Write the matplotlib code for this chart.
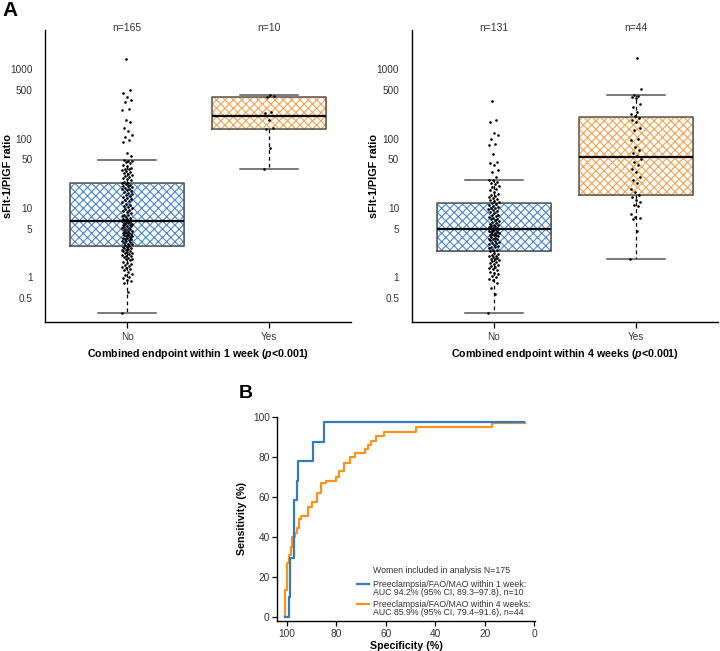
import numpy as np
import matplotlib
matplotlib.use("Agg")
import matplotlib.pyplot as plt
from matplotlib.transforms import blended_transform_factory

plt.rcParams['font.family'] = ['Liberation Sans', 'DejaVu Sans']
plt.rcParams['mathtext.fontset'] = 'custom'
plt.rcParams['mathtext.it'] = 'Liberation Sans:italic:bold'
plt.rcParams['mathtext.rm'] = 'Liberation Sans:bold'
plt.rcParams['hatch.linewidth'] = 0.8

# ---------------- data ----------------
categories = ["No", "Yes"]

week1_counts = ["n=165", "n=10"]
week1_no = [0.30, 0.60, 0.82, 0.88, 0.92, 0.98, 1.02, 1.08, 1.12, 1.18,
            1.25, 1.3, 1.35, 1.4, 1.45, 1.5, 1.55, 1.6, 1.68, 1.75,
            1.8, 1.85, 1.9, 1.95, 2.0, 2.05, 2.1, 2.15, 2.2, 2.25,
            2.3, 2.35, 2.4, 2.45, 2.5, 2.55, 2.6, 2.65, 2.7, 2.75, 2.8,
            2.9, 3.0, 3.05, 3.1, 3.2, 3.3, 3.35, 3.4, 3.5, 3.6,
            3.65, 3.7, 3.8, 3.9, 3.95, 4.0, 4.1, 4.2, 4.3, 4.35,
            4.4, 4.5, 4.6, 4.7, 4.8, 4.9, 5.0, 5.1, 5.2, 5.3,
            5.4, 5.5, 5.6, 5.7, 5.8, 5.9, 6.0, 6.1, 6.2, 6.3, 6.4,
            6.5,
            6.6, 6.7, 6.8, 7.0, 7.2, 7.4, 7.6, 7.8, 8.0, 8.3,
            8.6, 8.9, 9.2, 9.5, 9.8, 10.2, 10.6, 11.0, 11.5, 12.0,
            12.5, 13.0, 13.5, 14.0, 14.5, 15.0, 15.5, 16.0, 16.5, 17.0,
            17.5, 18.0, 18.5, 19.0, 19.5, 20.0, 20.5, 21.0, 21.5, 22.0, 22.5,
            23, 24, 25, 26, 27, 28, 29, 30, 31, 32, 33, 34, 35, 36, 37, 38,
            40, 42, 44, 46, 47, 48, 49,
            56, 61, 88, 95, 104, 112, 130, 140, 175, 185, 255, 270, 340,
            360, 400, 450, 510, 1420]
week1_yes = [37, 72, 136, 140, 185, 235, 245, 395, 410, 424]
week1_whislo = [0.30, 36.7]
week1_q1 = [2.84, 136]
week1_med = [6.5, 210]
week1_q3 = [22.7, 393]
week1_whishi = [49, 424]

week4_counts = ["n=131", "n=44"]
week4_no = [0.3, 0.58, 0.7, 0.82, 0.9, 0.95, 1.0, 1.05, 1.1, 1.15,
            1.2, 1.25, 1.3, 1.35, 1.4, 1.45, 1.5, 1.55, 1.6, 1.65,
            1.7, 1.75, 1.8, 1.85, 1.9, 1.95, 2.0, 2.05, 2.1, 2.15, 2.25, 2.35,
            2.45, 2.5, 2.6, 2.7, 2.75, 2.8, 2.9, 3.0, 3.1, 3.15,
            3.2, 3.3, 3.4, 3.5, 3.55, 3.6, 3.7, 3.8, 3.9, 4.0,
            4.05, 4.1, 4.2, 4.3, 4.4, 4.5, 4.55, 4.6, 4.7, 4.8, 4.85, 4.9,
            4.96,
            5.05, 5.1, 5.2, 5.3, 5.4, 5.5, 5.6, 5.7, 5.8, 6.0,
            6.2, 6.4, 6.6, 6.8, 7.0, 7.2, 7.4, 7.6, 7.8, 8.0,
            8.3, 8.6, 8.9, 9.2, 9.5, 9.8, 10.1, 10.4, 10.7, 11.0, 11.3, 11.6,
            12, 12.5, 13, 13.5, 14, 14.5, 15, 15.5, 16, 17, 18, 19, 20, 21,
            22, 23, 24, 25, 25.5,
            28, 33, 35, 42, 44, 46, 60, 80, 85, 100, 112, 120, 175, 188, 355]
week4_yes = [1.8, 4.6, 6.8, 7.1, 7.5, 8.2, 10.5, 11.0, 12.2, 13.0, 14.2,
             15.5, 17, 18.5, 22.5, 25, 28, 33, 37, 41, 46, 50,
             57, 62, 68, 76, 95, 100, 132, 140, 175, 184, 200,
             210, 230, 243, 287, 321, 380, 401, 410, 420, 513, 1440]
week4_whislo = [0.30, 1.80]
week4_q1 = [2.40, 15.2]
week4_med = [4.96, 53.6]
week4_q3 = [11.8, 205]
week4_whishi = [25.5, 420]

yticks_vals = [0.5, 1, 5, 10, 50, 100, 500, 1000]
yticks_labels = ["0.5", "1", "5", "10", "50", "100", "500", "1000"]

# ROC curves (specificity %, sensitivity %)
roc1_spec = [100.8, 99.1, 98.7, 97.1, 96.0, 95.3, 89.3, 85.0, 4.3]
roc1_sens = [0, 9.7, 29.2, 58.3, 68.1, 77.8, 87.5, 97.2, 97.2]
roc4_spec = [100.8, 100.8, 100.0, 99.2, 98.4, 97.7, 96.8, 95.7, 94.9, 94.3,
             91.5, 89.7, 87.7, 86.1, 84.1, 80.0, 79.0, 77.0, 74.6, 72.6,
             68.5, 67.2, 65.8, 63.8, 60.8, 47.8, 17.2, 3.9]
roc4_sens = [0, 13.3, 26.7, 31.0, 35.0, 40.0, 41.7, 44.2, 48.8, 50.5,
             55.0, 57.3, 61.7, 66.7, 68.0, 70.0, 73.0, 77.0, 80.0, 81.7,
             84.0, 86.0, 88.0, 90.3, 92.5, 94.7, 97.0, 97.0]
roc_legend_title = "Women included in analysis N=175"
roc1_label = ["Preeclampsia/FAO/MAO within 1 week:",
              "AUC 94.2% (95% CI, 89.3\u201397.8), n=10"]
roc4_label = ["Preeclampsia/FAO/MAO within 4 weeks:",
              "AUC 85.9% (95% CI, 79.4\u201391.6), n=44"]

# ---------------- style ----------------
BLUE_H = "#4a87cc"
ORANGE_H = "#f5a24e"
BLUE_L = "#3579c3"
ORANGE_L = "#f7941e"
TXT = "#333333"

fig = plt.figure(figsize=(7.2, 6.51), dpi=100)

W, H = 720.0, 651.0


def ax_rect(x0, y0, x1, y1):
    return [x0 / W, 1 - y1 / H, (x1 - x0) / W, (y1 - y0) / H]


def box_panel(ax, groups, whislo, q1, med, q3, whishi, counts, xlabel):
    pos = [1, 2]
    stats = []
    for i in range(2):
        stats.append(dict(med=med[i], q1=q1[i], q3=q3[i],
                          whislo=whislo[i], whishi=whishi[i], fliers=[]))
    hatch_cols = [BLUE_H, ORANGE_H]
    # hatched fill
    b = ax.bxp(stats, positions=pos, widths=0.8, patch_artist=True,
               showcaps=False, manage_ticks=False,
               boxprops=dict(facecolor="white", linewidth=0.5),
               whiskerprops=dict(linestyle="none"),
               medianprops=dict(linestyle="none"))
    for patch, hc in zip(b["boxes"], hatch_cols):
        patch.set_edgecolor(hc)
        patch.set_hatch("xxxx")
        patch.set_zorder(1)
    # outlines, whiskers, caps, medians
    ax.bxp(stats, positions=pos, widths=0.8, patch_artist=False,
           manage_ticks=False, capwidths=0.41,
           boxprops=dict(color="#555555", linewidth=1.1),
           whiskerprops=dict(color="black", linestyle=(0, (3.0, 2.5)), linewidth=0.9),
           capprops=dict(color="#555555", linewidth=1.1),
           medianprops=dict(color="black", linewidth=1.6))
    # points with deterministic jitter
    for i, vals in enumerate(groups):
        n = len(vals)
        jit = ((np.arange(n) * 0.618034) % 1.0 - 0.5) * 0.075
        ax.plot(pos[i] + jit, vals, "o", ms=1.9, color="black",
                mec="none", zorder=5)
    ax.set_yscale("log")
    ax.set_ylim(0.225, 3700)
    ax.set_xlim(0.4225, 2.577)
    ax.set_yticks(yticks_vals)
    ax.set_yticklabels(yticks_labels)
    ax.yaxis.set_minor_locator(matplotlib.ticker.NullLocator())
    ax.set_xticks(pos)
    ax.set_xticklabels(categories)
    for s in ["top", "right"]:
        ax.spines[s].set_visible(False)
    for s in ["left", "bottom"]:
        ax.spines[s].set_linewidth(1.0)
    ax.tick_params(axis="y", length=0, pad=9, labelsize=7.2, labelcolor=TXT)
    ax.tick_params(axis="x", length=4, width=0.9, pad=3, labelsize=7.2,
                   labelcolor=TXT)
    ax.set_ylabel("sFlt-1/PlGF ratio", fontsize=7.8, fontweight="bold")
    ax.yaxis.set_label_coords(-0.106, 0.5)
    ax.set_xlabel(xlabel, fontsize=7.7, fontweight="bold", labelpad=3.5)
    tr = blended_transform_factory(ax.transData, ax.transAxes)
    for i in range(2):
        ax.text(pos[i], 1.0068, counts[i], transform=tr, ha="center",
                va="center", fontsize=7.5, color=TXT)


ax1 = fig.add_axes(ax_rect(45, 30, 351, 322))
box_panel(ax1, [week1_no, week1_yes], week1_whislo, week1_q1, week1_med,
          week1_q3, week1_whishi, week1_counts,
          r"Combined endpoint within 1 week ($\it{p}$<0.001)")

ax2 = fig.add_axes(ax_rect(411.7, 30, 717.7, 322))
box_panel(ax2, [week4_no, week4_yes], week4_whislo, week4_q1, week4_med,
          week4_q3, week4_whishi, week4_counts,
          r"Combined endpoint within 4 weeks ($\it{p}$<0.001)")

# ---------------- ROC ----------------
ax3 = fig.add_axes(ax_rect(277.3, 416.7, 535, 621))
ax3.step(roc1_spec, roc1_sens, where="post", color=BLUE_L, lw=1.6, zorder=3)
ax3.step(roc4_spec, roc4_sens, where="post", color=ORANGE_L, lw=1.6, zorder=2)
ax3.set_xlim(103.8, -0.3)
ax3.set_ylim(-2.15, 100)
ax3.set_xticks([100, 80, 60, 40, 20, 0])
ax3.set_yticks([0, 20, 40, 60, 80, 100])
for s in ["top", "right"]:
    ax3.spines[s].set_visible(False)
for s in ["left", "bottom"]:
    ax3.spines[s].set_linewidth(1.0)
ax3.tick_params(length=3.5, width=0.9, pad=2, labelsize=7.3, labelcolor=TXT)
ax3.set_xlabel("Specificity (%)", fontsize=7.7, fontweight="bold", labelpad=2)
ax3.set_ylabel("Sensitivity (%)", fontsize=7.7, fontweight="bold", labelpad=4)

# legend (drawn as decoration in axes coordinates)
ta = ax3.transAxes
ax3.text(0.370, 0.2496, roc_legend_title, transform=ta, fontsize=6.3,
         color=TXT, va="center", ha="left")
for lab, col, y0 in [(roc1_label, BLUE_L, 0.181), (roc4_label, ORANGE_L, 0.0832)]:
    ax3.plot([0.308, 0.357], [y0, y0], transform=ta, color=col, lw=1.6,
             clip_on=False)
    ax3.text(0.370, y0, lab[0], transform=ta, fontsize=6.3, color=TXT,
             va="center", ha="left")
    ax3.text(0.370, y0 - 0.0426, lab[1], transform=ta, fontsize=6.3,
             color=TXT, va="center", ha="left")

fig.text(2 / W, 1 - 1 / H, "A", fontsize=15, fontweight="bold", va="top",
         ha="left")
fig.text(239 / W, 1 - 385 / H, "B", fontsize=14, fontweight="bold", va="top",
         ha="left")

fig.savefig("out.png", dpi=100)
